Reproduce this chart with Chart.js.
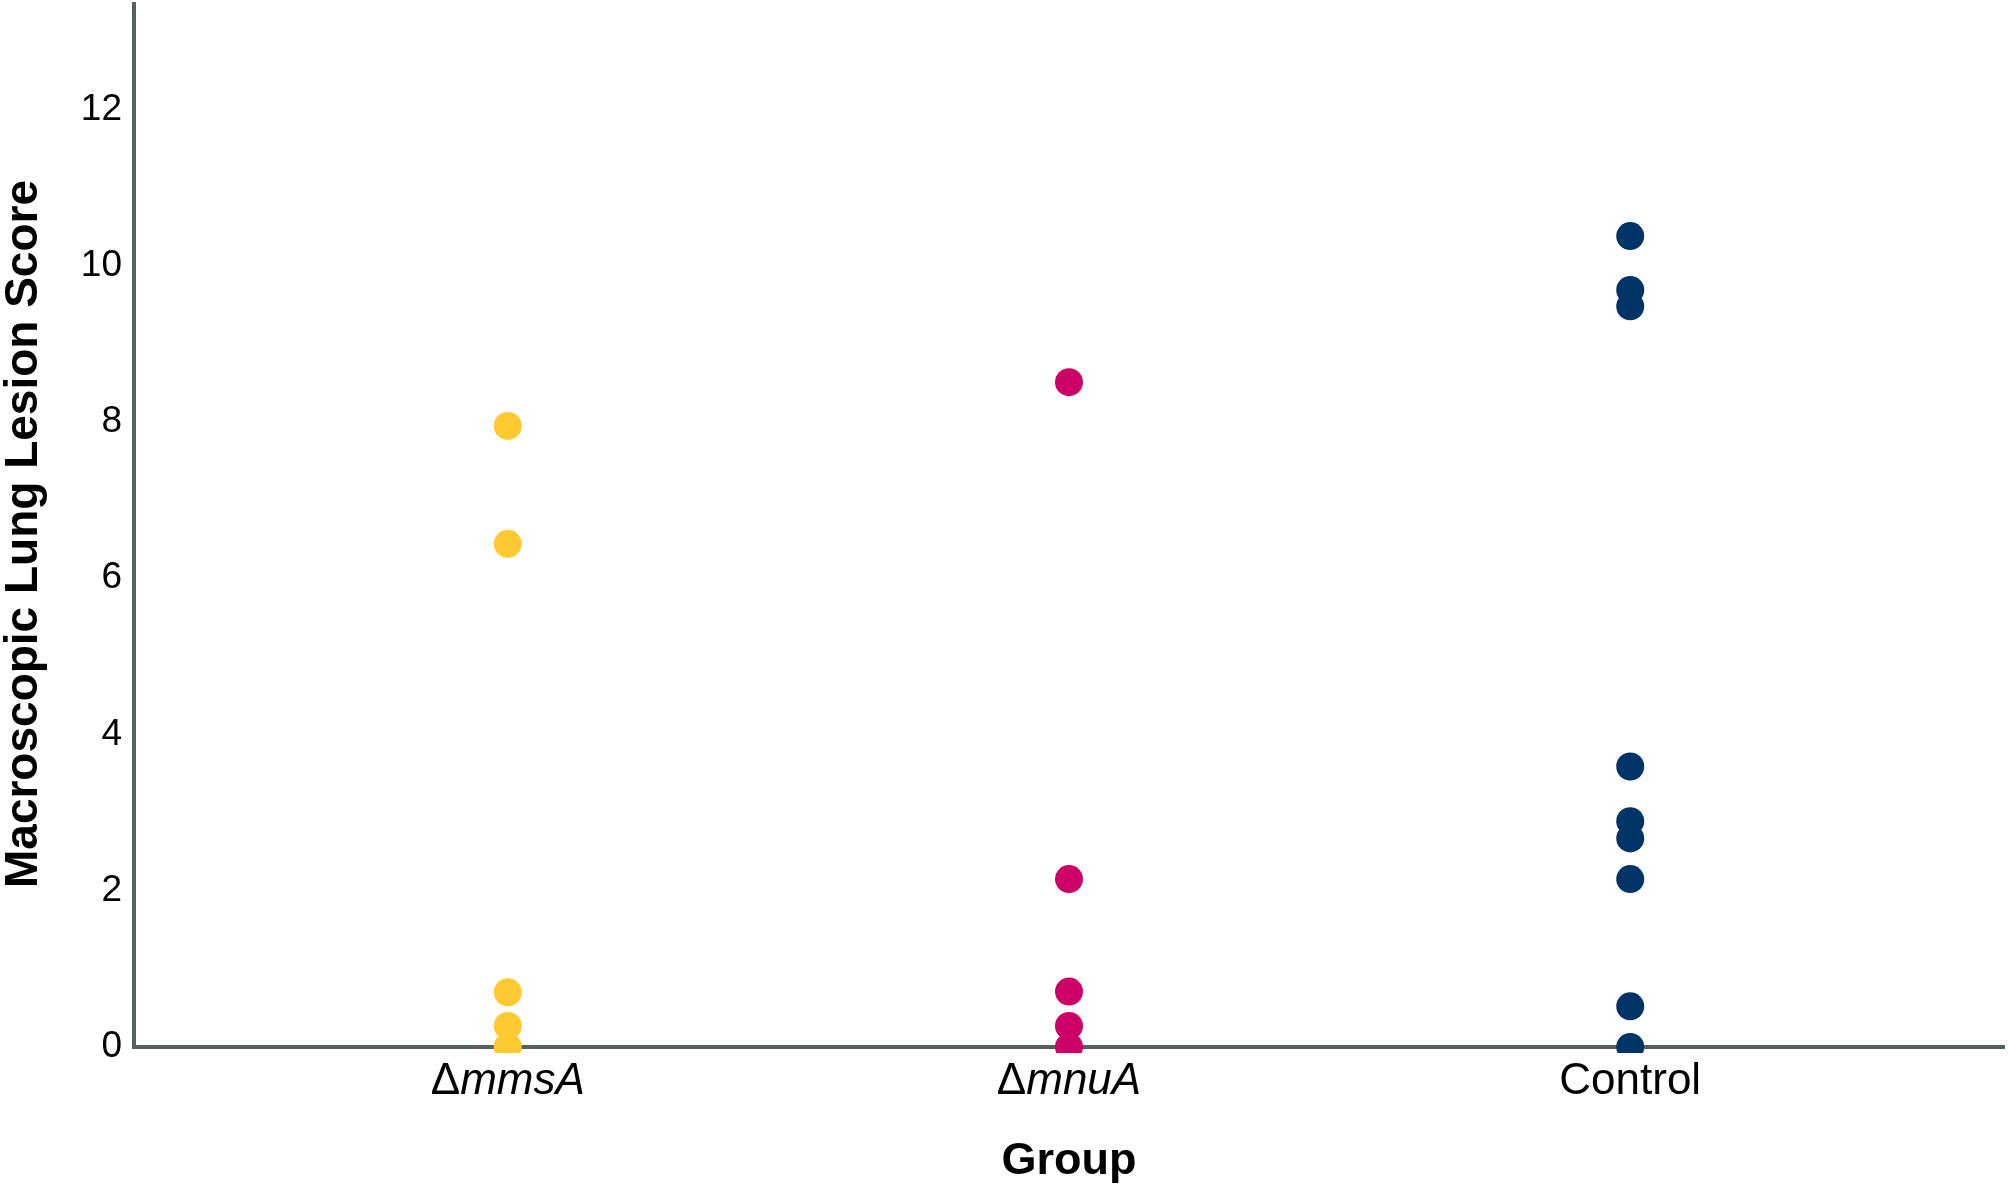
<!DOCTYPE html>
<html>
<head>
<meta charset="utf-8">
<script src="https://cdn.jsdelivr.net/npm/chart.js@4.4.1/dist/chart.umd.min.js"></script>
<style>
  html, body { margin: 0; padding: 0; background: #fff; }
  #wrap { width: 2008px; height: 1187px; position: relative; }
</style>
</head>
<body>
<div id="wrap"><canvas id="c"></canvas></div>
<script>
// groups on the x axis (prefix upright, gene name italic)
const GROUP_PREFIX = ["\u0394", "\u0394", ""];
const GROUP_NAME = ["mmsA", "mnuA", "Control"];
const GROUP_ITALIC = [true, true, false];

// lesion scores
const mmsA = [7.95, 6.44, 0.70, 0.27, 0];
const mnuA = [8.51, 2.15, 0.71, 0.27, 0];
const control = [10.38, 9.69, 9.48, 3.59, 2.89, 2.67, 2.15, 0.52, 0];

const Y_TICKS = [0, 2, 4, 6, 8, 10, 12];
const Y_TITLE = "Macroscopic Lung Lesion Score";
const COLORS = ["#ffc931", "#cc0066", "#003366"];
const AXIS_COLOR = "#58605c";
const FONT = "Arial, 'Liberation Sans', sans-serif";

const pts = (vals, g) => vals.map(v => ({ x: g, y: v }));

// x labels with mixed upright/italic parts + rotated y title
const groupLabels = {
  id: "groupLabels",
  afterDraw(chart) {
    const ctx = chart.ctx, xs = chart.scales.x;
    ctx.save();
    ctx.fillStyle = "#000";
    ctx.textBaseline = "middle";
    ctx.textAlign = "left";
    GROUP_NAME.forEach((name, i) => {
      const up = "44px " + FONT, it = (GROUP_ITALIC[i] ? "italic " : "") + "44px " + FONT;
      ctx.font = up;
      const w1 = ctx.measureText(GROUP_PREFIX[i]).width;
      ctx.font = it;
      const w2 = ctx.measureText(name).width;
      const x = xs.getPixelForValue(i) - (w1 + w2) / 2;
      const y = 1082;
      ctx.font = up;
      ctx.fillText(GROUP_PREFIX[i], x, y);
      ctx.font = it;
      ctx.fillText(name, x + w1, y);
    });
    // y title
    ctx.translate(24, 534);
    ctx.rotate(-Math.PI / 2);
    ctx.textAlign = "center";
    ctx.font = "bold 46px " + FONT;
    ctx.fillText(Y_TITLE, 0, 0);
    ctx.restore();
  }
};

const clip = { left: 30, right: 30, top: 30, bottom: 6 };

new Chart(document.getElementById("c"), {
  type: "scatter",
  data: {
    datasets: [
      { label: "mmsA", data: pts(mmsA, 0), backgroundColor: COLORS[0], clip },
      { label: "mnuA", data: pts(mnuA, 1), backgroundColor: COLORS[1], clip },
      { label: "Control", data: pts(control, 2), backgroundColor: COLORS[2], clip },
    ],
  },
  options: {
    responsive: true,
    maintainAspectRatio: false,
    animation: false,
    layout: { autoPadding: false, padding: { top: 4, right: 4, left: 0, bottom: 0 } },
    elements: { point: { radius: 14, borderWidth: 0, hoverRadius: 14 } },
    plugins: { legend: { display: false }, tooltip: { enabled: false } },
    scales: {
      x: {
        type: "linear",
        min: -0.666,
        max: 2.666,
        afterBuildTicks: s => { s.ticks = [0, 1, 2].map(v => ({ value: v })); },
        ticks: { display: false },
        grid: { display: false, drawTicks: false },
        border: { display: true, color: AXIS_COLOR, width: 4 },
        title: {
          display: true, text: "Group", color: "#000",
          font: { family: FONT, size: 45, weight: "bold" },
          padding: { top: 0, bottom: -2 },
        },
        afterFit: s => { s.height = 140; s.paddingLeft = 0; s.paddingRight = 0; },
      },
      y: {
        min: 0,
        max: 13.35,
        afterBuildTicks: s => { s.ticks = Y_TICKS.map(v => ({ value: v })); },
        ticks: { color: "#000", padding: 12, font: { family: FONT, size: 37 } },
        grid: { display: false, drawTicks: false },
        border: { display: true, color: AXIS_COLOR, width: 4 },
        title: { display: false },
        afterFit: s => { s.width = 134; s.paddingTop = 0; s.paddingBottom = 0; },
      },
    },
  },
  plugins: [groupLabels],
});
</script>
</body>
</html>
